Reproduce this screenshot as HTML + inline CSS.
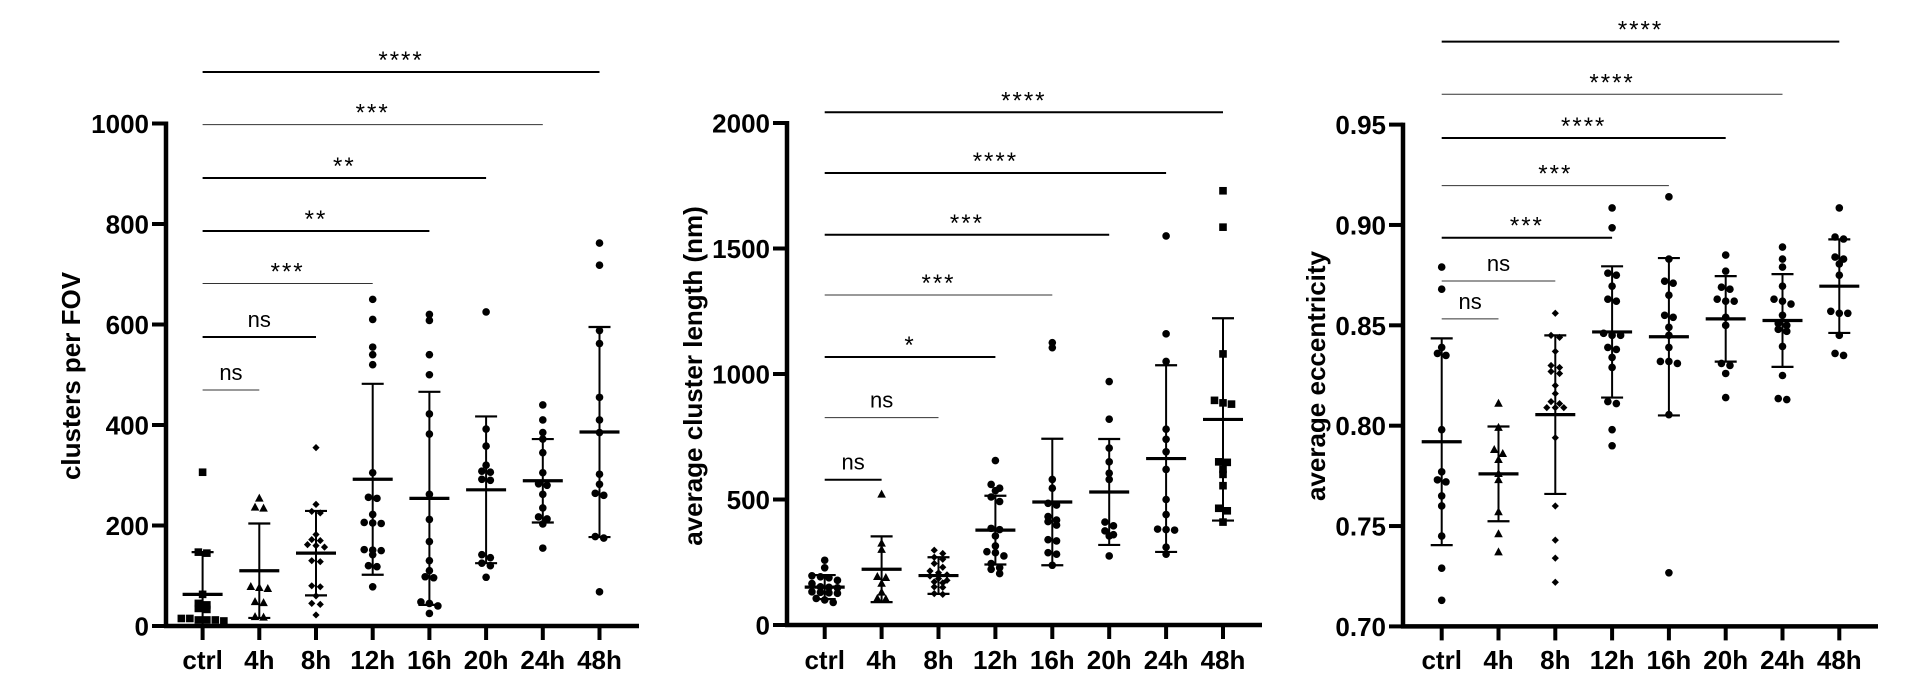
<!DOCTYPE html>
<html><head><meta charset="utf-8"><style>
html,body{margin:0;padding:0;background:#fff;}
svg{display:block;font-family:"Liberation Sans",Arial,sans-serif;}
</style></head><body>
<svg id="fig" width="1920" height="684" viewBox="0 0 1920 684" xmlns="http://www.w3.org/2000/svg"></svg>
<script>
const categories = ["ctrl","4h","8h","12h","16h","20h","24h","48h"];

// Panel 1: clusters per FOV
const p1Ticks = [0,200,400,600,800,1000];
const p1Means = [63,110,145,292,254,271,289,386];
const p1Sds   = [84,94,84,190,212,146,83,209];
const p1Ctrl = [306,147,145,63,45,42,35,33,15,15,12,12,12,10];
const p1H4  = [254,236,234,78,76,74,48,46,18,17];
const p1H8  = [355,242,228,225,182,172,170,162,160,157,130,128,80,78,60,45,43,22];
const p1H12 = [650,610,555,540,520,305,256,254,222,206,205,204,152,151,150,142,120,118,78];
const p1H16 = [620,608,540,500,422,382,262,212,168,130,110,98,96,48,45,40,25];
const p1H20 = [625,392,358,320,308,306,292,290,142,136,125,120,97];
const p1H24 = [440,410,385,372,345,305,283,280,262,235,217,213,203,155];
const p1H48 = [762,718,588,562,455,410,385,302,282,264,260,178,175,68];
const p1Stars = ["ns","ns","***","**","**","***","****"];

// Panel 2: average cluster length (nm)
const p2Ticks = [0,500,1000,1500,2000];
const p2Means = [151,222,197,378,490,530,663,819];
const p2Sds   = [48,131,73,137,252,211,372,403];
const p2Ctrl = [258,228,196,192,188,178,165,152,150,148,132,130,128,126,106,100,90];
const p2H4  = [520,325,300,192,188,165,130,105,103];
const p2H8  = [298,285,270,262,245,230,215,208,200,195,185,178,172,168,152,150,125,122];
const p2H12 = [655,560,545,535,510,492,385,380,355,315,292,288,275,245,228,222,205];
const p2H16 = [1125,1105,580,545,485,478,432,418,412,398,340,335,288,282,238];
const p2H20 = [970,820,705,650,605,580,410,395,375,360,355,275];
const p2H24 = [1550,1160,1050,780,740,690,620,500,440,382,380,378,310,282];
const p2H48 = [1730,1585,1080,895,885,880,650,648,620,600,555,465,455,410];
const p2Stars = ["ns","ns","*","***","***","****","****"];

// Panel 3: average eccentricity
const p3Ticks = [0.70,0.75,0.80,0.85,0.90,0.95];
const p3Means = [0.792,0.776,0.8055,0.8467,0.8443,0.8532,0.8524,0.8695];
const p3Sds   = [0.0515,0.0236,0.0395,0.0327,0.0392,0.0213,0.0231,0.0233];
const p3Ctrl = [0.879,0.868,0.839,0.836,0.835,0.798,0.777,0.773,0.772,0.765,0.760,0.745,0.729,0.713];
const p3H4  = [0.811,0.799,0.788,0.786,0.783,0.776,0.773,0.757,0.746,0.737];
const p3H8  = [0.856,0.845,0.844,0.837,0.830,0.829,0.827,0.826,0.820,0.816,0.812,0.811,0.809,0.809,0.809,0.794,0.760,0.743,0.734,0.722];
const p3H12 = [0.9085,0.8986,0.876,0.875,0.8695,0.863,0.862,0.846,0.845,0.845,0.839,0.838,0.834,0.829,0.812,0.811,0.798,0.790];
const p3H16 = [0.914,0.883,0.872,0.871,0.865,0.855,0.854,0.849,0.845,0.839,0.832,0.832,0.831,0.8055,0.7267];
const p3H20 = [0.885,0.877,0.869,0.868,0.863,0.862,0.862,0.854,0.850,0.831,0.830,0.826,0.814];
const p3H24 = [0.889,0.883,0.879,0.8695,0.863,0.862,0.8606,0.855,0.851,0.850,0.848,0.847,0.8395,0.825,0.8135,0.813];
const p3H48 = [0.9085,0.894,0.893,0.884,0.883,0.8806,0.875,0.857,0.856,0.856,0.845,0.836,0.835];
const p3Stars = ["ns","ns","***","***","****","****","****"];

const NS = "http://www.w3.org/2000/svg";
const svg = document.getElementById("fig");
function el(tag, attrs, parent){
  const e = document.createElementNS(NS, tag);
  for (const k in attrs) e.setAttribute(k, attrs[k]);
  (parent||svg).appendChild(e);
  return e;
}

const panels = [
  {id:"clusters", title:"clusters per FOV", titleX:71, ticks:p1Ticks, tickFmt:v=>String(v),
   vmin:0, vmax:1000, py0:626, py1:123.5, axisX:166, cx0:202.6, dx:56.7, axisEnd:639,
   series:[p1Ctrl,p1H4,p1H8,p1H12,p1H16,p1H20,p1H24,p1H48], means:p1Means, sds:p1Sds, stars:p1Stars,
   brY:[390,337,283.5,231,178,124.6,72], brW:[1,2,1,2,2,1,2],
   markers:["square","triangle","diamond","circle","circle","circle","circle","circle"]},
  {id:"length", title:"average cluster length (nm)", titleX:693, ticks:p2Ticks, tickFmt:v=>String(v),
   vmin:0, vmax:2000, py0:625, py1:123, axisX:787, cx0:824.7, dx:56.9, axisEnd:1262,
   series:[p2Ctrl,p2H4,p2H8,p2H12,p2H16,p2H20,p2H24,p2H48], means:p2Means, sds:p2Sds, stars:p2Stars,
   brY:[479.7,417.6,357,295,234.8,173,112.3], brW:[2,1,2,1,2,2,2],
   markers:["circle","triangle","diamond","circle","circle","circle","circle","square"]},
  {id:"eccentricity", title:"average eccentricity", titleX:1316, ticks:p3Ticks, tickFmt:v=>v.toFixed(2),
   vmin:0.70, vmax:0.95, py0:626.4, py1:124.6, axisX:1403, cx0:1441.7, dx:56.8, axisEnd:1878,
   series:[p3Ctrl,p3H4,p3H8,p3H12,p3H16,p3H20,p3H24,p3H48], means:p3Means, sds:p3Sds, stars:p3Stars,
   brY:[318.9,281,237.7,185.6,138,94.3,41.6], brW:[1,1,2,1,2,1,2],
   markers:["circle","triangle","diamond","circle","circle","circle","circle","circle"]}
];

function drawMarker(g, type, x, y){
  let m;
  if (type==="circle") m = el("circle",{cx:x,cy:y,r:3.8,fill:"#000"},g);
  else if (type==="square") m = el("rect",{x:x-3.8,y:y-3.8,width:7.6,height:7.6,fill:"#000"},g);
  else if (type==="triangle") m = el("polygon",{points:`${x},${y-4.8} ${x+4.3},${y+3.2} ${x-4.3},${y+3.2}`,fill:"#000"},g);
  else m = el("polygon",{points:`${x},${y-3.6} ${x+3.6},${y} ${x},${y+3.6} ${x-3.6},${y}`,fill:"#000"},g);
  
  
}

panels.forEach(p=>{
  const yS = v => p.py0 + (v - p.vmin)/(p.vmax - p.vmin)*(p.py1 - p.py0);
  const xS = i => p.cx0 + i*p.dx;
  const g = el("g",{});
  
  

  // y title
  const t = el("text",{x:p.titleX,y:376,"font-size":26,"font-weight":"bold","text-anchor":"middle","dominant-baseline":"central",transform:`rotate(-90 ${p.titleX} 376)`},g);
  t.textContent = p.title;
  
  

  // axes
  const ya = el("line",{x1:p.axisX,y1:yS(p.vmax)-2,x2:p.axisX,y2:p.py0+2,stroke:"#000","stroke-width":4.5},g);
  
  
  const xa = el("line",{x1:p.axisX-2,y1:p.py0,x2:p.axisEnd,y2:p.py0,stroke:"#000","stroke-width":4.5},g);
  
  

  p.ticks.forEach(v=>{
    const y = yS(v);
    const tk = el("line",{x1:p.axisX-14,y1:y,x2:p.axisX,y2:y,stroke:"#000","stroke-width":4},g);
    
    
    const tl = el("text",{x:p.axisX-17,y:y+9.5,"font-size":26,"font-weight":"bold","text-anchor":"end"},g);
    tl.textContent = p.tickFmt(v);
    
    
  });

  categories.forEach((c,i)=>{
    const x = xS(i);
    const tk = el("line",{x1:x,y1:p.py0,x2:x,y2:p.py0+14,stroke:"#000","stroke-width":4},g);
    
    
    const tl = el("text",{x:x,y:669,"font-size":26,"font-weight":"bold","text-anchor":"middle"},g);
    tl.textContent = c;
    
    
  });

  // points (beeswarm grouping)
  p.series.forEach((vals,i)=>{
    const cx = xS(i);
    const ys = vals.map(yS).sort((a,b)=>a-b);
    let groups = [], cur = [];
    ys.forEach(y=>{
      if (cur.length && y - cur[0] > 5) { groups.push(cur); cur = []; }
      cur.push(y);
    });
    if (cur.length) groups.push(cur);
    groups.forEach(gr=>{
      gr.forEach((y,k)=>{
        const off = (k - (gr.length-1)/2) * 8.5;
        drawMarker(g, p.markers[i], cx+off, y);
      });
    });
  });

  // mean & SD
  p.means.forEach((m,i)=>{
    const x = xS(i);
    const yT = yS(m + p.sds[i]);
    const yB = Math.min(yS(m - p.sds[i]), p.py0);
    const v = el("line",{x1:x,y1:yT,x2:x,y2:yB,stroke:"#000","stroke-width":2},g);
    
    
    const c1 = el("line",{x1:x-11,y1:yT,x2:x+11,y2:yT,stroke:"#000","stroke-width":2.2},g);
    
    
    if (yS(m - p.sds[i]) < p.py0) {
      const c2 = el("line",{x1:x-11,y1:yB,x2:x+11,y2:yB,stroke:"#000","stroke-width":2.2},g);
      
      
    }
    const ml = el("line",{x1:x-20,y1:yS(m),x2:x+20,y2:yS(m),stroke:"#000","stroke-width":3.2},g);
    
    
  });

  // significance brackets
  p.stars.forEach((s,k)=>{
    const x1 = xS(0), x2 = xS(k+1), y = p.brY[k];
    const ln = el("line",{x1:x1,y1:y,x2:x2,y2:y,stroke:p.brW[k]===1?"#333":"#000","stroke-width":p.brW[k]},g);
    
    
    const isNs = s==="ns";
    const tx = el("text",{x:(x1+x2)/2,y:isNs? y-10 : y-4,"font-size":isNs?22:24,"text-anchor":"middle","letter-spacing":isNs?0:2},g);
    tx.textContent = s;
    
    
  });
});
</script>
</body></html>
